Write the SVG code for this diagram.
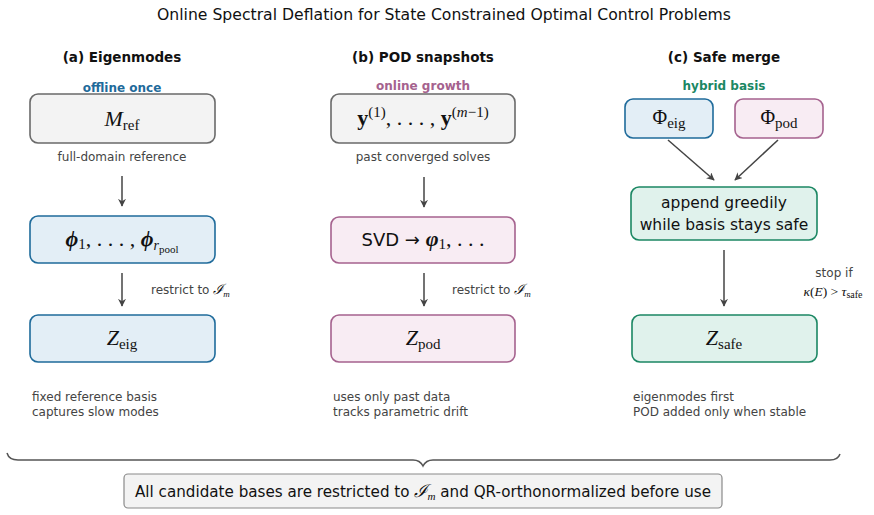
<svg xmlns="http://www.w3.org/2000/svg" width="874" height="515" viewBox="0 0 874 515">
<defs>
<marker id="ah" viewBox="0 0 10 10" refX="9" refY="5" markerWidth="8" markerHeight="8" markerUnits="userSpaceOnUse" orient="auto">
<path d="M0,0 L10,5 L0,10 L3,5 Z" fill="#444"/>
</marker>
<style>
.sans{font-family:"DejaVu Sans","Liberation Sans",sans-serif;}
.title{font-family:"DejaVu Sans","Liberation Sans",sans-serif;font-size:15.5px;fill:#111;}
.hdr{font-family:"DejaVu Sans","Liberation Sans",sans-serif;font-size:13.5px;font-weight:bold;fill:#111;}
.tag{font-family:"DejaVu Sans","Liberation Sans",sans-serif;font-size:12px;font-weight:bold;}
.cap{font-family:"DejaVu Sans","Liberation Sans",sans-serif;font-size:12px;fill:#444;}
.math{font-family:"Liberation Serif","DejaVu Serif",serif;fill:#111;}
.box{stroke-width:1.6;}
.gray{fill:#f3f3f3;stroke:#6a6a6a;}
.blue{fill:#e3eef6;stroke:#1f6b9b;}
.pink{fill:#f8ecf3;stroke:#a5628e;}
.green{fill:#e0f2ec;stroke:#1b8763;}
.conn{stroke:#444;stroke-width:1.5;fill:none;marker-end:url(#ah);}
</style>
</defs>
<rect width="874" height="515" fill="#fff"/>
<text class="title" x="444" y="20" text-anchor="middle" textLength="574" lengthAdjust="spacingAndGlyphs">Online Spectral Deflation for State Constrained Optimal Control Problems</text>

<!-- headers -->
<text class="hdr" x="122" y="62" text-anchor="middle">(a) Eigenmodes</text>
<text class="hdr" x="423" y="62" text-anchor="middle">(b) POD snapshots</text>
<text class="hdr" x="724" y="62" text-anchor="middle">(c) Safe merge</text>
<text class="tag" x="122" y="92" text-anchor="middle" fill="#1f6b9b">offline once</text>
<text class="tag" x="423" y="90" text-anchor="middle" fill="#a5628e">online growth</text>
<text class="tag" x="724" y="90" text-anchor="middle" fill="#1b8763">hybrid basis</text>

<!-- column a -->
<g id="mref">
<rect class="box gray" x="30" y="94" width="185" height="49" rx="8"/>
<text class="math" x="122" y="126" text-anchor="middle" font-size="22"><tspan font-style="italic">M</tspan><tspan font-size="15" dy="4">ref</tspan></text>
</g>
<text class="cap" x="122" y="161" text-anchor="middle">full-domain reference</text>
<g id="phi">
<rect class="box blue" x="30" y="216" width="185" height="47" rx="8"/>
<text class="math" x="122" y="246" text-anchor="middle" font-size="22"><tspan font-weight="bold" font-style="italic">ϕ</tspan><tspan font-size="15" dy="3">1</tspan><tspan dy="-3">, . . . , </tspan><tspan font-weight="bold" font-style="italic">ϕ</tspan><tspan font-size="14" font-style="italic" dy="4">r</tspan><tspan font-size="11" dy="3">pool</tspan></text>
</g>
<text class="cap" x="151" y="294">restrict to <tspan class="math" font-style="italic" font-size="14">ℐ</tspan><tspan class="math" font-style="italic" font-size="9" dy="3">m</tspan></text>
<g id="zeig">
<rect class="box blue" x="30" y="315" width="185" height="47" rx="8"/>
<text class="math" x="122" y="345" text-anchor="middle" font-size="22"><tspan font-style="italic">Z</tspan><tspan font-size="15" dy="4">eig</tspan></text>
</g>
<text class="cap" x="32" y="401">fixed reference basis</text>
<text class="cap" x="32" y="416">captures slow modes</text>

<!-- column b -->
<g id="ysnap">
<rect class="box gray" x="331" y="94" width="184" height="49" rx="8"/>
<text class="math" x="423" y="125" text-anchor="middle" font-size="22"><tspan font-weight="bold">y</tspan><tspan font-size="15" dy="-8">(1)</tspan><tspan dy="8">, . . . , </tspan><tspan font-weight="bold">y</tspan><tspan font-size="15" dy="-8">(<tspan font-style="italic">m</tspan>−1)</tspan></text>
</g>
<text class="cap" x="423" y="161" text-anchor="middle">past converged solves</text>
<g id="svd">
<rect class="box pink" x="331" y="217" width="184" height="46" rx="8"/>
<text x="423" y="246" text-anchor="middle" font-size="18"><tspan class="sans" fill="#111">SVD → </tspan><tspan class="math" font-weight="bold" font-style="italic" font-size="22">φ</tspan><tspan class="math" font-size="15" dy="3">1</tspan><tspan class="math" font-size="22" dy="-3">, . . .</tspan></text>
</g>
<text class="cap" x="452" y="294">restrict to <tspan class="math" font-style="italic" font-size="14">ℐ</tspan><tspan class="math" font-style="italic" font-size="9" dy="3">m</tspan></text>
<g id="zpod">
<rect class="box pink" x="331" y="315" width="184" height="47" rx="8"/>
<text class="math" x="423" y="345" text-anchor="middle" font-size="22"><tspan font-style="italic">Z</tspan><tspan font-size="15" dy="4">pod</tspan></text>
</g>
<text class="cap" x="333" y="401">uses only past data</text>
<text class="cap" x="333" y="416">tracks parametric drift</text>

<!-- column c -->
<g id="phieig">
<rect class="box blue" x="625" y="99" width="88" height="39" rx="8"/>
<text class="math" x="669" y="124" text-anchor="middle" font-size="20">Φ<tspan font-size="15" dy="4">eig</tspan></text>
</g>
<g id="phipod">
<rect class="box pink" x="735" y="99" width="88" height="39" rx="8"/>
<text class="math" x="779" y="124" text-anchor="middle" font-size="20">Φ<tspan font-size="15" dy="4">pod</tspan></text>
</g>
<g id="append">
<rect class="box green" x="631" y="187" width="186" height="53" rx="8"/>
<text class="sans" x="724" y="208" text-anchor="middle" font-size="15.5" fill="#111">append greedily</text>
<text class="sans" x="724" y="230" text-anchor="middle" font-size="15.5" fill="#111">while basis stays safe</text>
</g>
<text class="cap" x="834" y="277" text-anchor="middle">stop if</text>
<text class="math" x="833" y="296" text-anchor="middle" font-size="13.5" fill="#444"><tspan font-style="italic">κ</tspan>(<tspan font-style="italic">E</tspan>) &gt; <tspan font-style="italic">τ</tspan><tspan font-size="10" dy="2">safe</tspan></text>
<g id="zsafe">
<rect class="box green" x="632" y="315" width="185" height="47" rx="8"/>
<text class="math" x="724" y="345" text-anchor="middle" font-size="22"><tspan font-style="italic">Z</tspan><tspan font-size="15" dy="4">safe</tspan></text>
</g>
<text class="cap" x="633" y="401">eigenmodes first</text>
<text class="cap" x="633" y="416">POD added only when stable</text>

<!-- connectors -->
<g id="connectors">
<line class="conn" x1="122" y1="176" x2="122" y2="206"/>
<line class="conn" x1="122" y1="273" x2="122" y2="306"/>
<line class="conn" x1="424" y1="177" x2="424" y2="207"/>
<line class="conn" x1="424" y1="273" x2="424" y2="306"/>
<line class="conn" x1="668" y1="140" x2="714" y2="180"/>
<line class="conn" x1="778" y1="140" x2="735" y2="180"/>
<line class="conn" x1="724" y1="250" x2="724" y2="306"/>
</g>

<!-- brace -->
<path d="M7,453 Q9,460 18,460 L413,460 Q420,460 423,466 Q426,460 433,460 L830,460 Q838,460 840,454" fill="none" stroke="#555" stroke-width="1.5"/>

<g id="note">
<rect x="124" y="474" width="598" height="34" rx="4" fill="#f3f3f3" stroke="#8a8a8a" stroke-width="1.2"/>
<text class="sans" x="423" y="497" text-anchor="middle" font-size="15" fill="#111" textLength="576" lengthAdjust="spacingAndGlyphs">All candidate bases are restricted to <tspan class="math" font-style="italic" font-size="18">ℐ</tspan><tspan class="math" font-style="italic" font-size="11" dy="3">m</tspan><tspan dy="-3"> and QR-orthonormalized before use</tspan></text>
</g>
</svg>
